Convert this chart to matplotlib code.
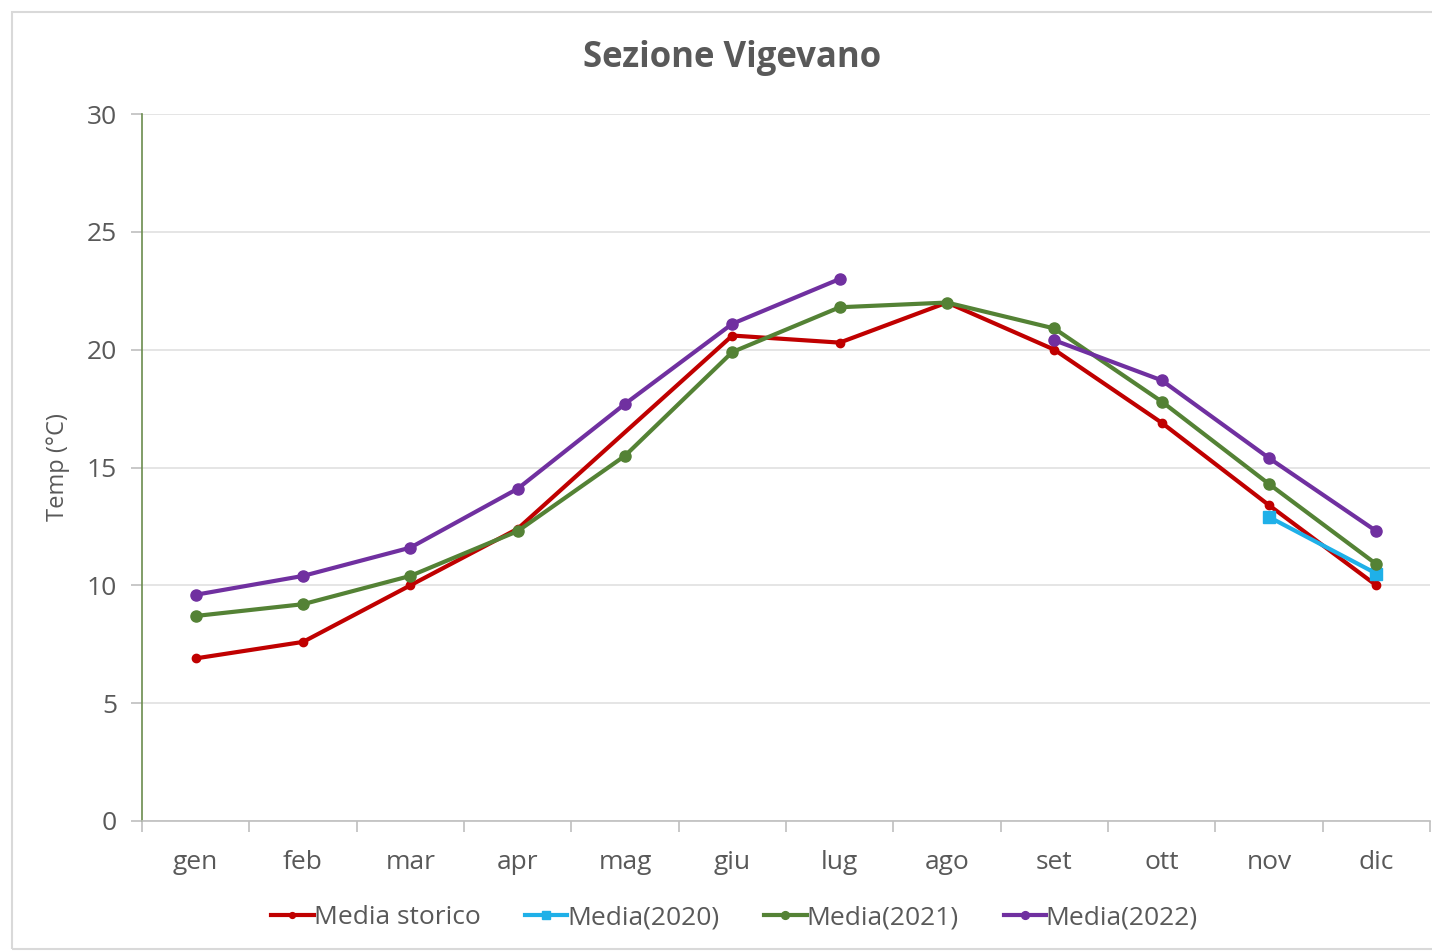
#!/usr/bin/env python3
"""
Sezione Vigevano - monthly mean temperatures.
"""

import numpy as np
import matplotlib

matplotlib.use("Agg")
import matplotlib.pyplot as plt
from matplotlib.patches import Rectangle

months = ["gen", "feb", "mar", "apr", "mag", "giu", "lug", "ago", "set", "ott", "nov", "dic"]

# nan = missing value
storico = [6.9, 7.6, 10.0, 12.4, np.nan, 20.6, 20.3, 22.0, 20.0, 16.9, 13.4, 10.0]
media_2020 = [np.nan] * 10 + [12.9, 10.5]
media_2021 = [8.7, 9.2, 10.4, 12.3, 15.5, 19.9, 21.8, 22.0, 20.9, 17.8, 14.3, 10.9]
media_2022 = [9.6, 10.4, 11.6, 14.1, 17.7, 21.1, 23.0, np.nan, 20.4, 18.7, 15.4, 12.3]


def main() -> None:
    plt.rcParams["font.family"] = ["Open Sans", "DejaVu Sans"]
    fig = plt.figure(figsize=(14.32, 9.51), dpi=100)
    ax = fig.add_axes([0.0992, 0.1367, 0.8994, 0.7434])

    # chart frame (right edge is cut off in the original)
    fig.patches.append(Rectangle((0.0085, 0.002), 1.2, 0.985, transform=fig.transFigure,
                                 fill=False, ec="#d9d9d9", lw=1.5))

    x = np.arange(len(months))
    st = np.array(storico)
    ok = ~np.isnan(st)
    # Excel "connect data points with line" for the historical series
    ax.plot(x[ok], st[ok], "-o", color="#c00000", lw=3, ms=6, label="Media storico")
    ax.plot(x, media_2020, "-s", color="#1fb0e8", lw=3, ms=8, label="Media(2020)")
    ax.plot(x, media_2021, "-o", color="#548235", lw=3, ms=8, label="Media(2021)")
    ax.plot(x, media_2022, "-o", color="#7030a0", lw=3, ms=8, label="Media(2022)")

    ax.set_xlim(-0.5, 11.5)
    ax.set_ylim(0, 30)
    ax.set_yticks(range(0, 31, 5))
    ax.set_xticks(x)
    ax.set_xticklabels(months)
    ax.set_xticks(np.arange(-0.5, 12, 1), minor=True)
    ax.tick_params(axis="x", which="major", length=0, pad=21, labelsize=19, labelcolor="#595959")
    ax.tick_params(axis="x", which="minor", length=8, color="#bfbfbf", width=1.2)
    ax.tick_params(axis="y", length=8, color="#bfbfbf", width=1.2, pad=10, labelsize=19,
                   labelcolor="#595959")
    ax.grid(axis="y", color="#e3e3e3", lw=1.3)
    ax.set_axisbelow(True)
    for s in ["top", "right"]:
        ax.spines[s].set_visible(False)
    ax.spines["left"].set_color("#6b8c4e")
    ax.spines["left"].set_linewidth(1.2)
    ax.spines["bottom"].set_color("#bfbfbf")
    ax.spines["bottom"].set_linewidth(1.2)

    ax.set_ylabel("Temp (°C)", fontsize=17, color="#595959", labelpad=12)
    fig.text(0.511, 0.939, "Sezione Vigevano", ha="center", va="center",
             fontsize=25, fontweight="bold", color="#595959")

    fig.legend(loc="center", bbox_to_anchor=(0.513, 0.035), ncol=4, frameon=False,
               fontsize=19, handlelength=1.6, handletextpad=0.0, columnspacing=1.7,
               markerscale=0.7, labelcolor="#595959")

    fig.savefig("out.png", dpi=100)
    plt.close(fig)


if __name__ == "__main__":
    main()
